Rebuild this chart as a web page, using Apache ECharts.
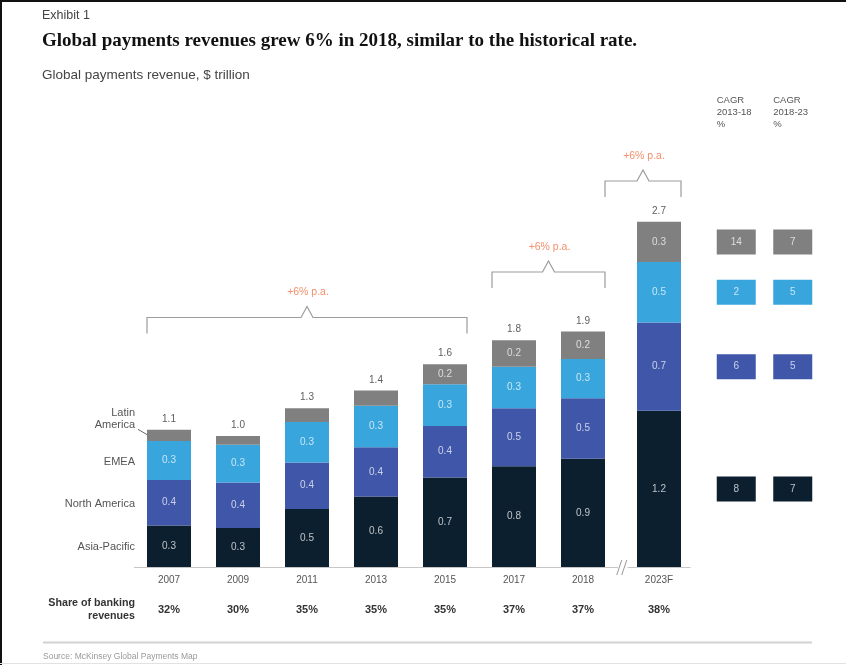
<!DOCTYPE html>
<html>
<head>
<meta charset="utf-8">
<script src="https://cdn.jsdelivr.net/npm/echarts@6/dist/echarts.min.js"></script>
<style>
  html, body { margin: 0; padding: 0; background: #fff; }
  #chart { width: 846px; height: 665px; }
</style>
</head>
<body>
<div id="chart"></div>
<script>
// ---- data -------------------------------------------------------------
const years = ['2007', '2009', '2011', '2013', '2015', '2017', '2018', '2023F'];
const regionNames = ['Asia-Pacific', 'North America', 'EMEA', 'Latin America'];

// Global payments revenue by region, $ trillion
const asiaPacific  = [0.33, 0.31, 0.46, 0.56, 0.71, 0.80, 0.86, 1.24];
const northAmerica = [0.36, 0.36, 0.37, 0.39, 0.41, 0.46, 0.48, 0.70];
const emea         = [0.31, 0.30, 0.32, 0.33, 0.33, 0.33, 0.31, 0.48];
const latinAmerica = [0.09, 0.07, 0.11, 0.12, 0.16, 0.21, 0.22, 0.32];

// Payments share of banking revenues, %
const bankingShare = [32, 30, 35, 35, 35, 37, 37, 38];

// CAGR by region (same order as regionNames), %
const cagrPeriods = ['CAGR\n2013-18\n%', 'CAGR\n2018-23\n%'];
const cagr2013to18 = [8, 6, 2, 14];
const cagr2018to23 = [7, 5, 5, 7];

// Growth call-outs spanning ranges of bars
const growthNotes = [
  { from: '2007', fromSide: 'left',  to: '2015',  text: '+6% p.a.' },
  { from: '2017', fromSide: 'left',  to: '2018',  text: '+6% p.a.' },
  { from: '2018', fromSide: 'right', to: '2023F', text: '+6% p.a.' }
];

// ---- styling / layout ---------------------------------------------------
const regionValues = [asiaPacific, northAmerica, emea, latinAmerica];
const colors = ['#0c1f2e', '#3f56a9', '#38a5dd', '#808080'];
const innerText = 'rgba(255,255,255,0.72)';
const FONT = '"Liberation Sans", Arial, sans-serif';
const BAR_W = 44;
const GRID_TOP = 189, GRID_BOTTOM = 98, Y_MAX = 3;
const HIST = 7; // bars drawn in the historical panel
const gridHist = { left: 134.5, width: 483 };
const gridFc = { left: 628, width: 62 };
const gridCagr = { left: 708, width: 113 };

const totals = years.map((_, i) => regionValues.reduce((s, arr) => s + arr[i], 0));

const chart = echarts.init(document.getElementById('chart'), null, { renderer: 'canvas' });

const axisLineStyle = { lineStyle: { color: '#c6c6c6', width: 1.2 } };
function yearAxis(gridIndex, data) {
  return {
    type: 'category', gridIndex, data, position: 'bottom',
    axisLine: axisLineStyle, axisTick: { show: false },
    axisLabel: { color: '#555', fontSize: 10, fontFamily: FONT, margin: 8 }
  };
}
function shareAxis(gridIndex, data) {
  return {
    type: 'category', gridIndex, data: data.map(v => v + '%'), position: 'bottom', offset: 29,
    axisLine: { show: false }, axisTick: { show: false },
    axisLabel: { color: '#333', fontSize: 11, fontWeight: 'bold', fontFamily: FONT, margin: 8 }
  };
}
function valueAxis(gridIndex) {
  return { type: 'value', gridIndex, min: 0, max: Y_MAX, show: false, splitLine: { show: false } };
}

const series = [];
regionValues.forEach((arr, r) => {
  const common = {
    type: 'bar', name: regionNames[r], barWidth: BAR_W,
    itemStyle: { color: colors[r] },
    label: {
      show: true, position: 'inside', color: innerText, fontSize: 10, fontFamily: FONT,
      formatter: p => (p.value >= 0.15 ? p.value.toFixed(1) : '')
    },
    emphasis: { disabled: true }
  };
  series.push(Object.assign({}, common, { xAxisIndex: 0, yAxisIndex: 0, stack: 'hist', data: arr.slice(0, HIST) }));
  series.push(Object.assign({}, common, { xAxisIndex: 2, yAxisIndex: 1, stack: 'fc', data: arr.slice(HIST) }));
});

const totalLabel = {
  show: true, position: 'top', distance: 5, color: '#333', fontSize: 10, fontFamily: FONT,
  formatter: p => p.value.toFixed(1)
};
series.push({ type: 'scatter', xAxisIndex: 0, yAxisIndex: 0, symbolSize: 1, z: 5,
  itemStyle: { color: 'rgba(0,0,0,0)' }, label: totalLabel, data: totals.slice(0, HIST) });
series.push({ type: 'scatter', xAxisIndex: 2, yAxisIndex: 1, symbolSize: 1, z: 5,
  itemStyle: { color: 'rgba(0,0,0,0)' }, label: totalLabel, data: totals.slice(HIST) });

// CAGR boxes, aligned with the middle of each forecast segment
let base = 0;
regionValues.forEach((arr, r) => {
  const v = arr[years.length - 1];
  const mid = base + v / 2;
  base += v;
  series.push({
    type: 'scatter', xAxisIndex: 4, yAxisIndex: 2, symbol: 'rect', symbolSize: [39, 25],
    itemStyle: { color: colors[r], opacity: 1 },
    emphasis: { disabled: true },
    label: { show: true, position: 'inside', color: innerText, fontSize: 10, fontFamily: FONT,
      formatter: p => String(p.value[2]) },
    data: [[0, mid, cagr2013to18[r]], [1, mid, cagr2018to23[r]]]
  });
});

chart.setOption({
  animation: false,
  backgroundColor: '#fff',
  textStyle: { fontFamily: FONT },
  grid: [
    { left: gridHist.left, width: gridHist.width, top: GRID_TOP, bottom: GRID_BOTTOM },
    { left: gridFc.left, width: gridFc.width, top: GRID_TOP, bottom: GRID_BOTTOM },
    { left: gridCagr.left, width: gridCagr.width, top: GRID_TOP, bottom: GRID_BOTTOM }
  ],
  xAxis: [
    yearAxis(0, years.slice(0, HIST)),
    shareAxis(0, bankingShare.slice(0, HIST)),
    yearAxis(1, years.slice(HIST)),
    shareAxis(1, bankingShare.slice(HIST)),
    { type: 'category', gridIndex: 2, data: cagrPeriods, show: false }
  ],
  yAxis: [valueAxis(0), valueAxis(1), valueAxis(2)],
  series
});

// ---- annotations derived from the axes -----------------------------------
function px(year, value) {
  const i = years.indexOf(year);
  if (i < HIST) return chart.convertToPixel({ xAxisIndex: 0, yAxisIndex: 0 }, [i, value]);
  return chart.convertToPixel({ xAxisIndex: 2, yAxisIndex: 1 }, [i - HIST, value]);
}

const g = [];
const txt = (x, y, text, style) => g.push({ type: 'text', x, y, silent: true,
  style: Object.assign({ text, fontFamily: FONT, fill: '#555', fontSize: 10 }, style) });
const line = (x1, y1, x2, y2, stroke, lineWidth) => g.push({ type: 'line', silent: true,
  shape: { x1, y1, x2, y2 }, style: { stroke, lineWidth } });

// frame
line(1, 0, 1, 665, '#111', 2);
line(0, 1, 846, 1, '#111', 2);
line(0, 663.5, 846, 663.5, '#e2e2e2', 1);

// headings
txt(42, 16, 'Exhibit 1', { fontSize: 12.5, fill: '#444', verticalAlign: 'middle' });
txt(42, 41, 'Global payments revenues grew 6% in 2018, similar to the historical rate.',
  { fontSize: 19, fontWeight: 'bold', fill: '#111', fontFamily: '"Liberation Serif", "Times New Roman", serif', verticalAlign: 'middle' });
txt(42, 75, 'Global payments revenue, $ trillion', { fontSize: 13.5, fill: '#444', verticalAlign: 'middle' });

// region names next to the first bar
const first = years[0];
let cum = 0;
regionValues.forEach((arr, r) => {
  const v = arr[0];
  const [bx, by] = px(first, cum + v / 2);
  cum += v;
  const right = bx - BAR_W / 2 - 12;
  if (r === regionValues.length - 1) {
    txt(right, by - 16, 'Latin\nAmerica', { align: 'right', verticalAlign: 'middle', lineHeight: 12, fontSize: 11 });
    line(right + 3, by - 6, bx - BAR_W / 2 + 3, by + 1, '#666', 1);
  } else {
    txt(right, by + 1, regionNames[r], { align: 'right', verticalAlign: 'middle', fontSize: 11 });
  }
});

// growth brackets
const bracketLevels = [317.5, 272, 181];
growthNotes.forEach((n, k) => {
  const x0 = px(n.from, 0)[0] + (n.fromSide === 'left' ? -BAR_W / 2 : BAR_W / 2);
  const x1 = px(n.to, 0)[0] + BAR_W / 2;
  const y = bracketLevels[k];
  const cx = (x0 + x1) / 2;
  g.push({ type: 'polyline', silent: true,
    shape: { points: [[x0, y + 16], [x0, y], [cx - 6, y], [cx, y - 11], [cx + 6, y], [x1, y], [x1, y + 16]] },
    style: { stroke: '#9c9c9c', lineWidth: 1.2, fill: null } });
  txt(cx + 1, y - 25, n.text, { align: 'center', verticalAlign: 'middle', fill: '#f48f6e', fontSize: 10.5 });
});

// axis break between the historical and forecast panels
const baseY = px(years[0], 0)[1];
const gapX = (gridHist.left + gridHist.width + gridFc.left) / 2;
line(gapX - 6, baseY + 8, gapX - 1, baseY - 7, '#999', 1);
line(gapX - 1, baseY + 8, gapX + 4, baseY - 7, '#999', 1);

// share row title
txt(135, 609.5, 'Share of banking\nrevenues', { align: 'right', verticalAlign: 'middle', lineHeight: 13,
  fontWeight: 'bold', fill: '#333', fontSize: 10.7 });

// CAGR column headers
cagrPeriods.forEach((h, i) => {
  const cx = chart.convertToPixel({ xAxisIndex: 4 }, i);
  txt(cx - 19.5, 112, h, { align: 'left', verticalAlign: 'middle', lineHeight: 12, fontSize: 9.5 });
});

// footer
line(43, 642.5, 812, 642.5, '#d2d2d2', 2);
txt(43, 657, 'Source: McKinsey Global Payments Map', { fontSize: 8.5, fill: '#999', verticalAlign: 'middle' });

chart.setOption({ graphic: g });
</script>
</body>
</html>
